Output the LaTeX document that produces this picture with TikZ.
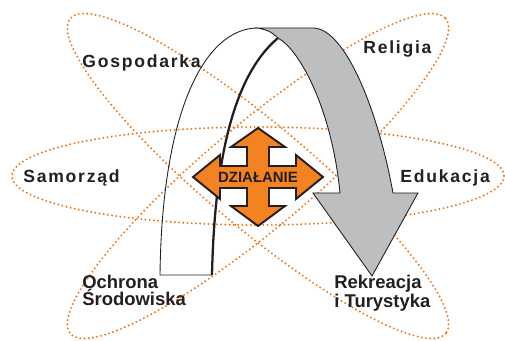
\documentclass[tikz,border=0pt]{standalone}
\usepackage{fontspec}
\setmainfont{Liberation Sans}
\definecolor{dotorange}{RGB}{238,120,30}
\definecolor{crossorange}{RGB}{243,130,32}
\definecolor{arrowgray}{RGB}{188,190,191}
\definecolor{inkblack}{RGB}{35,31,32}
\tikzset{
  orbit/.style={dotorange, line width=1.25pt, line cap=round, dash pattern=on 0pt off 2.4pt},
  area/.style={font=\bfseries\fontsize{10}{12}\selectfont\addfontfeature{LetterSpace=10}, text=inkblack, anchor=base west, inner sep=0pt},
  twoline/.style={font=\bfseries\fontsize{10.5}{9.6}\selectfont, text=inkblack, anchor=north west, inner sep=0pt, align=left},
}
\begin{document}
\begin{tikzpicture}[x=0.02cm, y=-0.02cm]
    \useasboundingbox (0,0) rectangle (505,341);
    \coordinate (mid) at (258,176);
    \draw[orbit] (mid) ellipse [x radius=246, y radius=49];
    \draw[orbit, rotate around={-40:(mid)}] (mid) ellipse [x radius=245, y radius=52];
    \draw[orbit, rotate around={40:(mid)}] (mid) ellipse [x radius=245, y radius=52];
    \draw[inkblack, line width=0.5pt] (212,275) -- (160,275) .. controls (162,110) and (205,28) .. (258,28);
    \draw[inkblack, line width=1.3pt] (212,275) .. controls (215,140) and (240,70) .. (278,38);
    \draw[inkblack, line width=0.5pt, fill=arrowgray] (258,28) -- (313,28) .. controls (345,28) and (378,110) .. (393,193) -- (418,193) -- (372,276) -- (313,193) -- (340,193) .. controls (332,110) and (300,50) .. (278,38) .. controls (270,31) .. (258,28) -- cycle;
    \draw[inkblack, line width=1.1pt, fill=crossorange, line join=miter] (258,128) -- (231,147) -- (247,147) -- (247,166) -- (220,166) -- (220,155) -- (193,177) -- (220,199) -- (220,188) -- (247,188) -- (247,206) -- (231,206) -- (258,226) -- (285,206) -- (269,206) -- (269,188) -- (296,188) -- (296,199) -- (323,177) -- (296,155) -- (296,166) -- (269,166) -- (269,147) -- (285,147) -- cycle;
    \node[font=\bfseries\fontsize{8.5}{10}\selectfont, text=inkblack, inner sep=0pt] (dzial) at (258,177) {DZIAŁANIE};
    \node[area] (gosp) at (82,68) {Gospodarka};
    \node[area] (relig) at (363,54) {Religia};
    \node[area] (samo) at (23,183) {Samorząd};
    \node[area] (eduk) at (400,183) {Edukacja};
    \node[twoline] (ochr) at (82,275) {Ochrona\\Środowiska};
    \node[twoline] (rekr) at (334,275) {Rekreacja\\i Turystyka};
\end{tikzpicture}
\end{document}
